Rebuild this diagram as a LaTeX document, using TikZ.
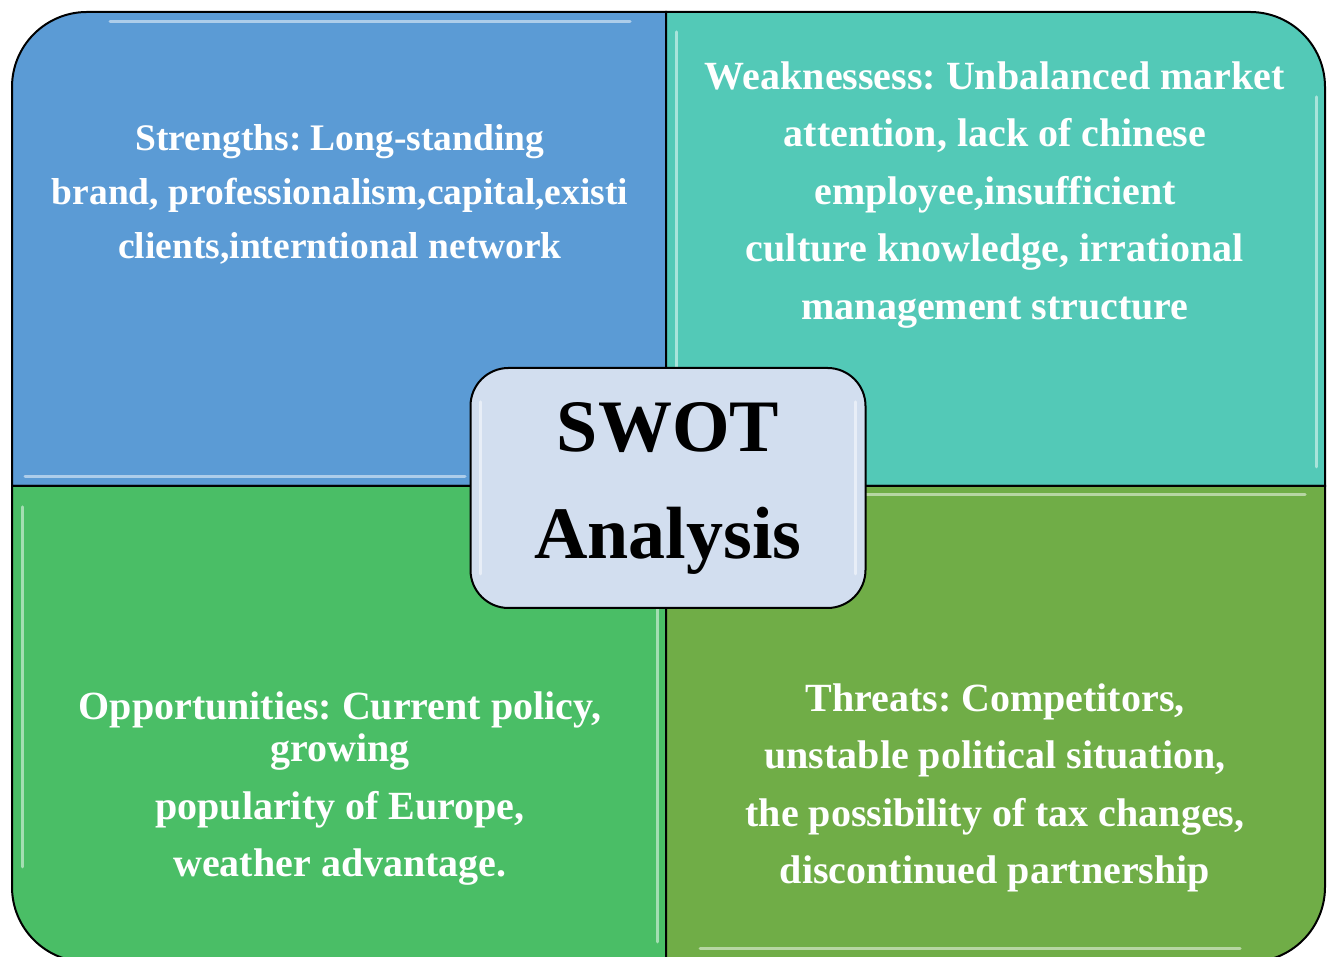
\documentclass[tikz,border=0pt]{standalone}
\usepackage{fontspec}
\setmainfont{Liberation Serif}
\usetikzlibrary{positioning}
\definecolor{swotblue}{HTML}{5B9BD5}
\definecolor{swotteal}{HTML}{53C9B7}
\definecolor{swotgreen}{HTML}{4ABE66}
\definecolor{swotolive}{HTML}{70AD47}
\definecolor{swotcore}{HTML}{D2DEEF}
\tikzset{quad/.style={draw=black,line width=2pt},
	quad text/.style={text=white,font=\fontsize{40}{57.5}\selectfont\bfseries\frenchspacing,align=center},
	core/.style={draw=black,line width=2pt,fill=swotcore,rounded corners=38pt,
		minimum width=395pt,minimum height=240pt,align=center,
		font=\fontsize{74}{107}\selectfont\bfseries},
	gloss/.style={draw=white,opacity=0.5,line width=3pt,line cap=round},
}

\begin{document}
\begin{tikzpicture}[x=1pt,y=1pt]
	\useasboundingbox (0,0) rectangle (1330,957);
	
	% the four quarters
	\path[quad,fill=swotblue] (666,471) -- (12,471) -- (12,870) arc[start angle=180,end angle=90,radius=75] -- (666,945) -- cycle;
	\path[quad,fill=swotteal] (666,471) -- (666,945) -- (1250,945) arc[start angle=90,end angle=0,radius=75] -- (1325,471) -- cycle;
	\path[quad,fill=swotgreen] (666,471) -- (12,471) -- (12,70) arc[start angle=180,end angle=270,radius=75] -- (666,-5) -- cycle;
	\path[quad,fill=swotolive] (666,471) -- (1325,471) -- (1325,70) arc[start angle=0,end angle=-90,radius=75] -- (666,-5) -- cycle;
	
	% light edges
	\draw[gloss] (110,935) -- (630,935);
	\draw[gloss] (25,480) -- (465,480);
	\draw[gloss] (1316,860) -- (1316,490);
	\draw[gloss] (676,925) -- (676,490);
	\draw[gloss] (22,450) -- (22,90);
	\draw[gloss] (657,450) -- (657,15);
	\draw[gloss] (700,8) -- (1240,8);
	\draw[gloss] (700,462) -- (1305,462);
	
	\node[quad text,font=\fontsize{37.5}{57.5}\selectfont\bfseries\frenchspacing] (strengths) at (340,763) {Strengths: Long-standing\\[-3.5pt]brand, professionalism,capital,existi\\[-3.5pt]clients,interntional network};
	\node[quad text] (weakness) at (995,762) {Weaknessess: Unbalanced market\\attention, lack of chinese\\employee,insufficient\\culture knowledge, irrational\\management structure};
	\node[quad text] (chances) at (340,168.5) {Opportunities: Current policy,\\[-15pt]growing\\popularity of Europe,\\weather advantage.};
	\node[quad text] (threats) at (995,169) {Threats: Competitors,\\unstable political situation,\\the possibility of tax changes,\\discontinued partnership};
	
	% centre box
	\node[core] (swot) at (668,469) {SWOT\\Analysis};
	\draw[gloss] ([xshift=11pt,yshift=-35pt]swot.north west) -- ([xshift=11pt,yshift=35pt]swot.south west);
	\draw[gloss] ([xshift=-11pt,yshift=-35pt]swot.north east) -- ([xshift=-11pt,yshift=35pt]swot.south east);
\end{tikzpicture}
\end{document}
